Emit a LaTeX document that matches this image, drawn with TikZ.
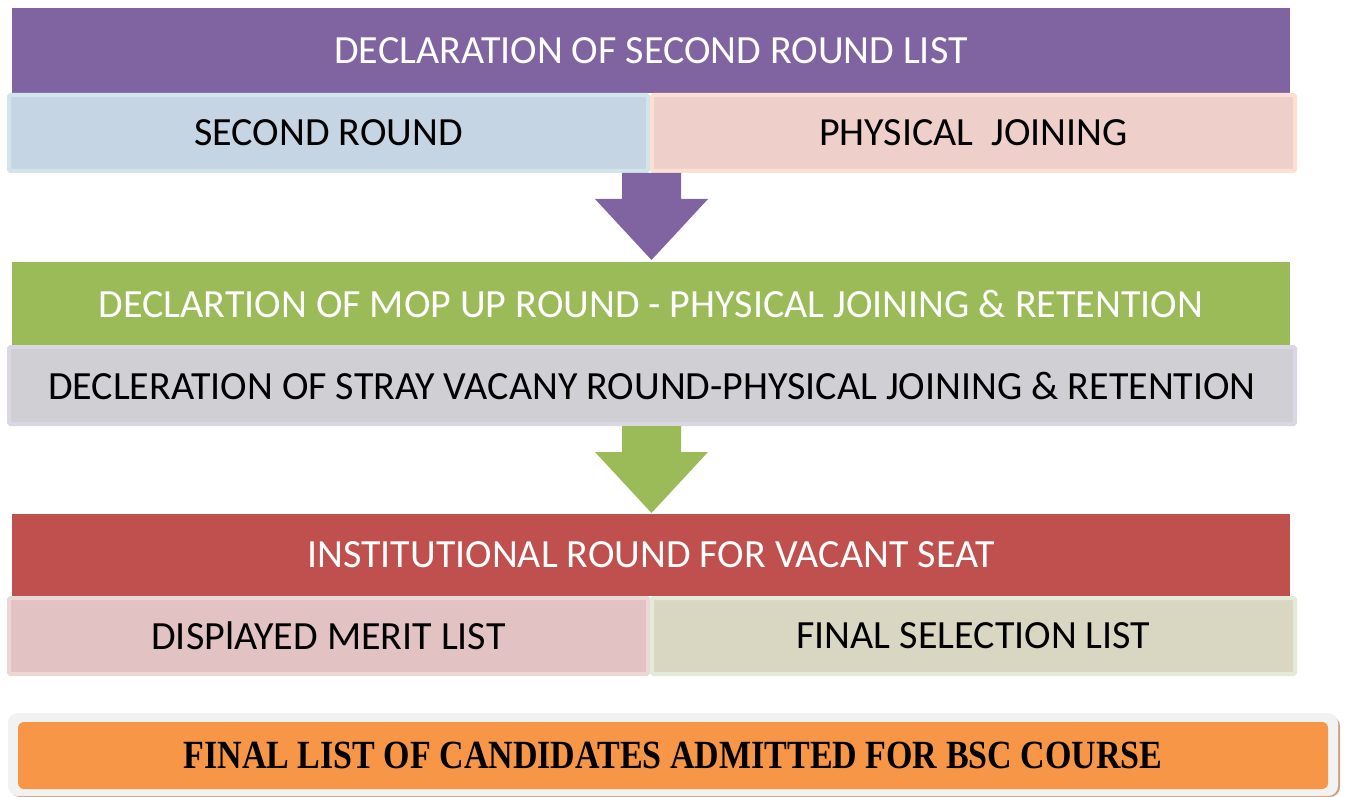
\documentclass[tikz,border=0pt]{standalone}
\usepackage{fontspec}
\setmainfont{Carlito}
\newfontfamily\serifbold{Liberation Serif}
\definecolor{cpurple}{HTML}{8064A2}
\definecolor{cgreen}{HTML}{9BBB59}
\definecolor{cred}{HTML}{C0504D}
\definecolor{corange}{HTML}{F79646}
\definecolor{fblue}{HTML}{C6D5E3}
\definecolor{bblue}{HTML}{D3E5EA}
\definecolor{fpink}{HTML}{EFCFCA}
\definecolor{bpink}{HTML}{FCE0D3}
\definecolor{fgrey}{HTML}{D0CFD3}
\definecolor{bgrey}{HTML}{DAD6E4}
\definecolor{frose}{HTML}{E2C2C2}
\definecolor{brose}{HTML}{EDD6D6}
\definecolor{fkhaki}{HTML}{D9D7C2}
\definecolor{bkhaki}{HTML}{E3EBD8}
\definecolor{cframe}{HTML}{F2F2F2}
\definecolor{cshadow}{HTML}{C9A287}
\tikzset{
  bar/.style={fill=#1, draw=none, inner sep=0pt, text=white, font=\fontsize{40}{44}\selectfont},
  sub/.style={inner sep=0pt, rounded corners=1.5pt, line width=4pt, text=black, font=\fontsize{40}{44}\selectfont},
}
\begin{document}
\begin{tikzpicture}[x=1pt,y=-1pt]
\useasboundingbox (0,0) rectangle (1345,797);
% stage 1
\node[bar=cpurple, minimum width=1278pt, minimum height=85pt] (b1) at (651,50.5) {DECLARATION OF SECOND ROUND LIST};
\node[sub, fill=fblue, draw=bblue, minimum width=639pt, minimum height=76pt] (s1) at (328.5,133) {SECOND ROUND};
\node[sub, fill=fpink, draw=bpink, minimum width=643pt, minimum height=76pt] (p1) at (973.5,133) {PHYSICAL\ \ JOINING};
% arrow 1
\coordinate (a1t) at (651.5,173);
\coordinate (a1h) at (651.5,260);
\fill[cpurple] ([xshift=-29.5pt]a1t) -- ([xshift=29.5pt]a1t) -- ([xshift=29.5pt]a1t |- 0,199) -- (708,199) -- (a1h) -- (595,199) -- ([xshift=-29.5pt]a1t |- 0,199) -- cycle;
% stage 2
\node[bar=cgreen, minimum width=1278pt, minimum height=83pt] (b2) at (651,303.5) {DECLARTION OF MOP UP ROUND - PHYSICAL JOINING \& RETENTION};
\node[sub, fill=fgrey, draw=bgrey, minimum width=1286pt, minimum height=77pt] (s2) at (652,385.5) {DECLERATION OF STRAY VACANY ROUND-PHYSICAL JOINING \& RETENTION};
% arrow 2
\coordinate (a2t) at (651.5,426);
\coordinate (a2h) at (651.5,513);
\fill[cgreen] ([xshift=-29.5pt]a2t) -- ([xshift=29.5pt]a2t) -- ([xshift=29.5pt]a2t |- 0,452) -- (708,452) -- (a2h) -- (595,452) -- ([xshift=-29.5pt]a2t |- 0,452) -- cycle;
% stage 3
\node[bar=cred, minimum width=1278pt, minimum height=82pt] (b3) at (651,555) {INSTITUTIONAL ROUND FOR VACANT SEAT};
\node[sub, fill=frose, draw=brose, minimum width=639pt, minimum height=76pt] (s3) at (328.5,636) {DISPlAYED MERIT LIST};
\node[sub, fill=fkhaki, draw=bkhaki, minimum width=643pt, minimum height=76pt] (p3) at (973.5,636) {FINAL SELECTION LIST};
% final
\fill[cshadow, rounded corners=10pt] (10,716) rectangle (1340,797);
\node[fill=cframe, rounded corners=10pt, minimum width=1330pt, minimum height=83pt, inner sep=0pt] (fr) at (673,754.5) {};
\node[fill=corange, rounded corners=6pt, minimum width=1310pt, minimum height=67pt, inner sep=0pt, font=\serifbold\bfseries\fontsize{40}{44}\selectfont] (fin) at (673,755.5) {\scalebox{0.85}[1]{FINAL LIST OF CANDIDATES ADMITTED FOR BSC COURSE}};
\end{tikzpicture}
\end{document}
